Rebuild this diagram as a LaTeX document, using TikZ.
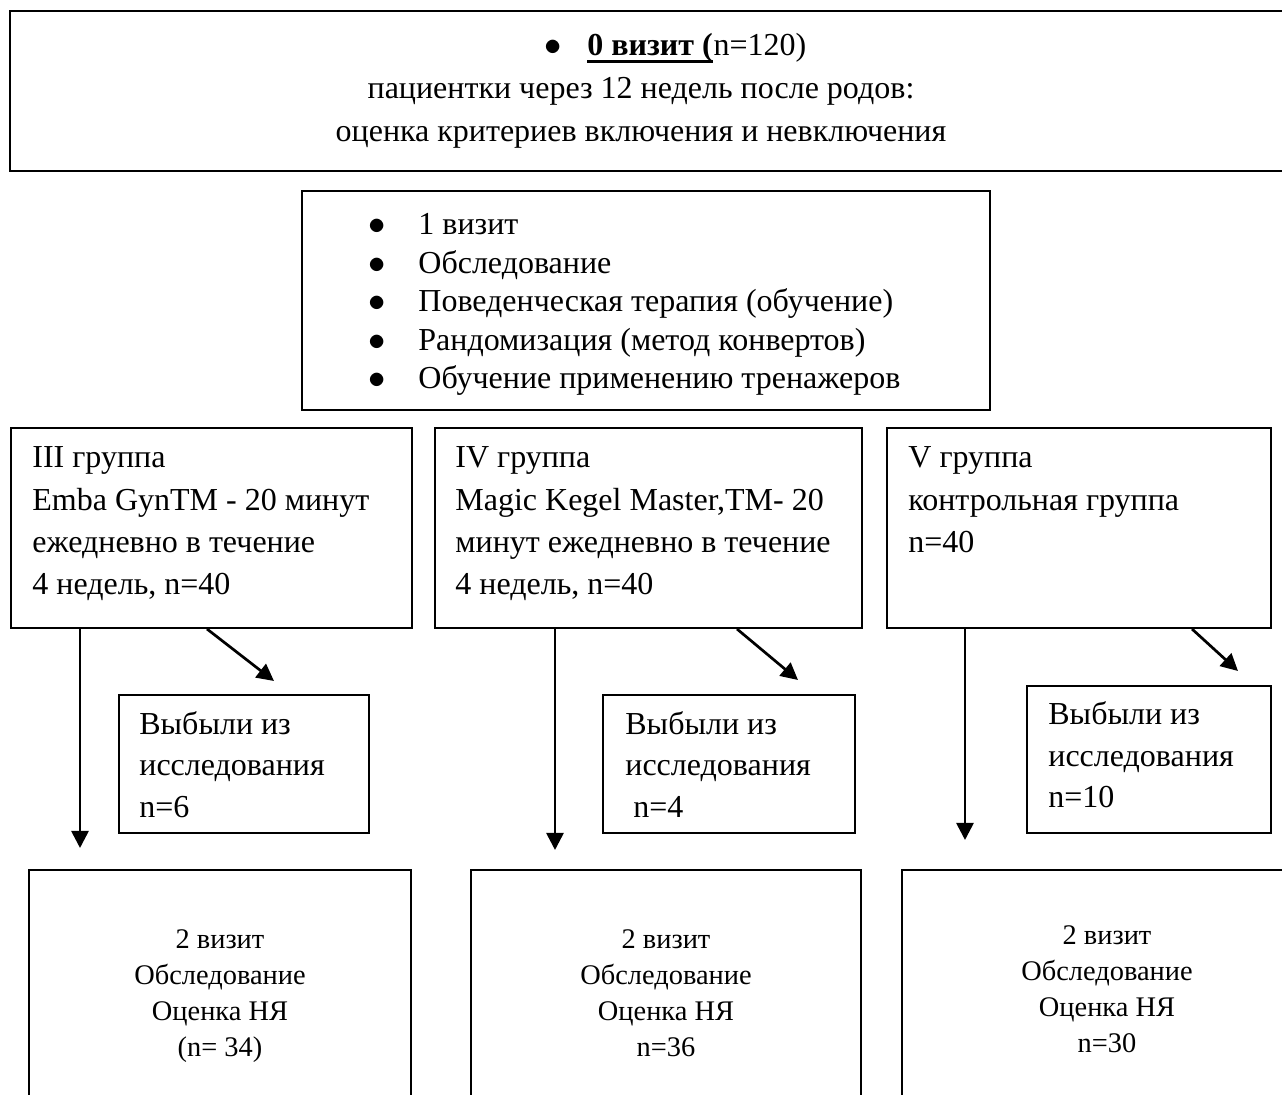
\documentclass[tikz,border=0pt]{standalone}
\usepackage{fontspec}
\setmainfont{Liberation Serif}
\usepackage{tikz}
\usetikzlibrary{positioning}
\usetikzlibrary{arrows.meta,fit}
\tikzstyle{block}=[draw=black,line width=1pt,inner sep=0pt]
\tikzstyle{txt}=[anchor=base west,inner sep=0pt,font=\fontsize{16pt}{19pt}\selectfont]
\tikzstyle{ctxt}=[anchor=base,inner sep=0pt,font=\fontsize{16pt}{19pt}\selectfont]
\tikzstyle{smalltxt}=[anchor=base,inner sep=0pt,font=\fontsize{14.2pt}{17pt}\selectfont]
\tikzstyle{dot}=[anchor=base,inner sep=0pt,font=\fontsize{16pt}{19pt}\selectfont]
\tikzstyle{edge}=[draw,line width=1.35pt,-{Triangle[length=8.5pt,width=8.5pt]}]

\begin{document}
\begin{tikzpicture}[x=0.5pt,y=-0.5pt]
    \useasboundingbox (0,0) rectangle (1282,1095);
    \clip (0,0) rectangle (1282,1095);

    % visit 0
    \node[block,fit={(10,11) (1300,171)}] (v0) {};
    \node[dot] (v0b) at (553,56) {$\bullet$};
    \node[txt] (v0u) at (587,56) {\textbf{0 визит (}};
    \node[txt] (v0n) at (v0u.base east) {n=120)};
    \draw[line width=1.5pt] ([yshift=-2.6pt]v0u.base west) -- ([yshift=-2.6pt]v0u.base east);
    \node[ctxt] (v0c) at (641,99) {пациентки через 12 недель после родов:};
    \node[ctxt] (v0d) at (641,142) {оценка критериев включения и невключения};

    % visit 1
    \node[block,fit={(302,191) (990,410)}] (v1) {};
    \foreach \y/\t [count=\i] in {235/1 визит, 273.5/Обследование, 312/{Поведенческая терапия (обучение)},
        350.5/{Рандомизация (метод конвертов)}, 389/{Обучение применению тренажеров}}
    {
        \node[dot] (v1b\i) at (377,\y) {$\bullet$};
        \node[txt] (v1t\i) at (418,\y) {\t};
    }

    % groups
    \node[block,fit={(11,428) (412,628)}] (g3) {};
    \node[block,fit={(435,428) (862,628)}] (g4) {};
    \node[block,fit={(887,428) (1271,628)}] (g5) {};
    \foreach \y/\t [count=\i] in {468/III группа, 511/{Emba GynTM - 20 минут}, 553/ежедневно в течение, 595/{4 недель, n=40}}
        \node[txt] (g3t\i) at (32,\y) {\t};
    \foreach \y/\t [count=\i] in {468/IV группа, 511/{Magic Kegel Master,TM- 20}, 553/минут ежедневно в течение, 595/{4 недель, n=40}}
        \node[txt] (g4t\i) at (455,\y) {\t};
    \foreach \y/\t [count=\i] in {468/V группа, 511/контрольная группа, 553/n=40}
        \node[txt] (g5t\i) at (908,\y) {\t};

    % dropped out
    \node[block,fit={(119,695) (369,833)}] (d3) {};
    \node[block,fit={(603,695) (855,833)}] (d4) {};
    \node[block,fit={(1027,686) (1271,833)}] (d5) {};
    \foreach \y/\t [count=\i] in {735/Выбыли из, 776/исследования, 818/n=6}
        \node[txt] (d3t\i) at (139,\y) {\t};
    \foreach \y/\t [count=\i] in {735/Выбыли из, 776/исследования, 818/\ n=4}
        \node[txt] (d4t\i) at (625,\y) {\t};
    \foreach \y/\t [count=\i] in {725/Выбыли из, 767/исследования, 808/n=10}
        \node[txt] (d5t\i) at (1048,\y) {\t};

    % visit 2
    \node[block,fit={(29,870) (411,1130)}] (e3) {};
    \node[block,fit={(471,870) (861,1130)}] (e4) {};
    \node[block,fit={(902,870) (1300,1130)}] (e5) {};
    \foreach \y/\t [count=\i] in {949/2 визит, 985/Обследование, 1021/Оценка НЯ, 1057/(n= 34)}
        \node[smalltxt] (e3t\i) at (220,\y) {\t};
    \foreach \y/\t [count=\i] in {949/2 визит, 985/Обследование, 1021/Оценка НЯ, 1057/n=36}
        \node[smalltxt] (e4t\i) at (666,\y) {\t};
    \foreach \y/\t [count=\i] in {945/2 визит, 981/Обследование, 1017/Оценка НЯ, 1053/n=30}
        \node[smalltxt] (e5t\i) at (1107,\y) {\t};

    % arrows
    \coordinate (a3) at (80,848);
    \coordinate (a4) at (555,850);
    \coordinate (a5) at (965,840);
    \coordinate (b3) at (274,681);
    \coordinate (b4) at (798,680);
    \coordinate (b5) at (1238,671);
    \foreach \g in {3,4,5}
        \path[edge] (g\g.south -| a\g) -- (a\g);
    \path[edge] (g3.south -| 207,0) -- (b3);
    \path[edge] (g4.south -| 737,0) -- (b4);
    \path[edge] (g5.south -| 1192,0) -- (b5);
\end{tikzpicture}
\end{document}
